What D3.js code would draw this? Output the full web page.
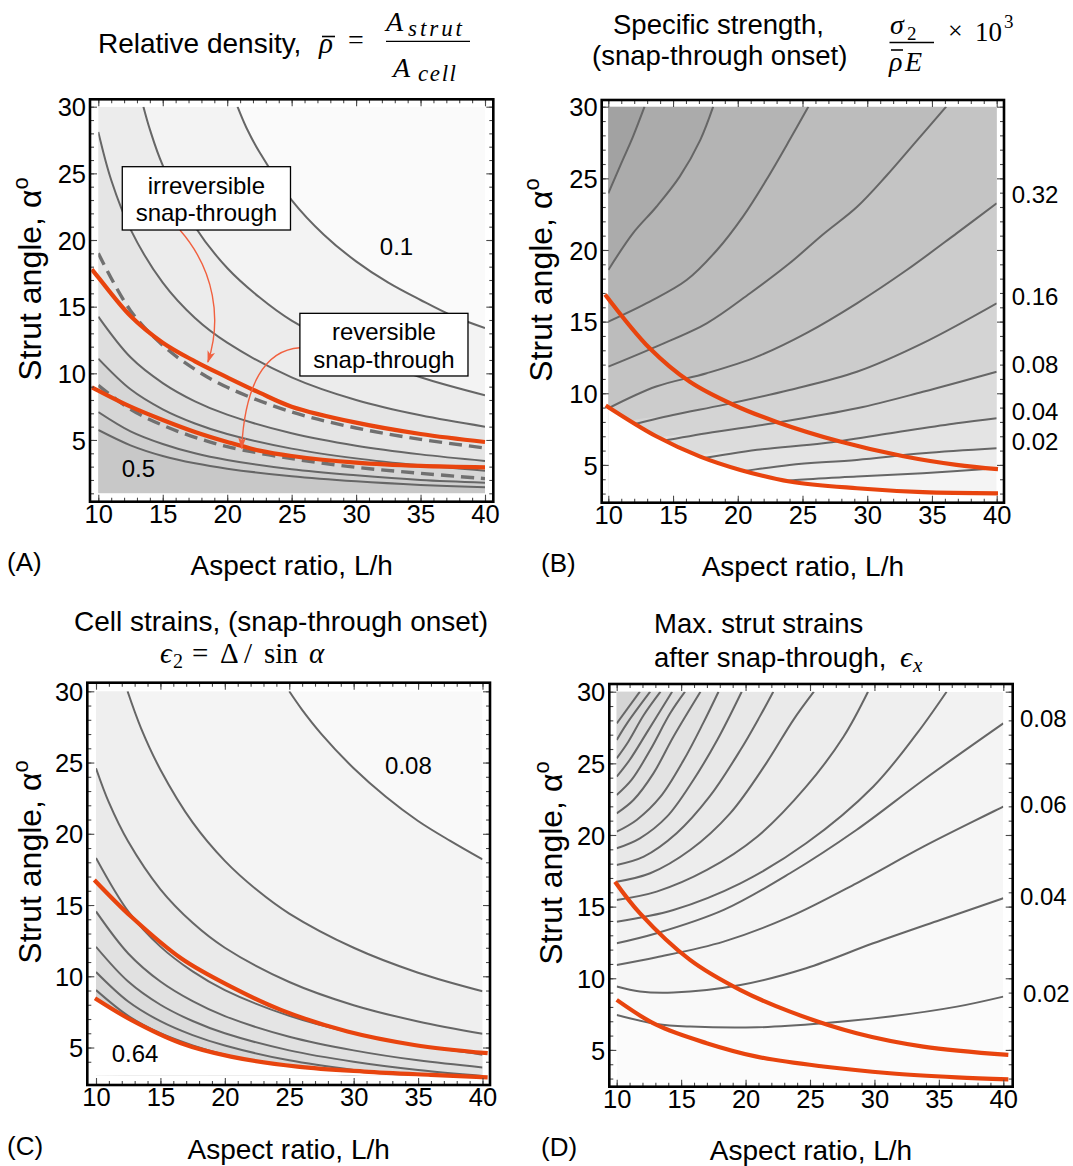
<!DOCTYPE html>
<html>
<head>
<meta charset="utf-8">
<script src="https://cdn.jsdelivr.net/npm/d3@7"></script>
<style>
  body { margin: 0; background: #fff; }
  svg { display: block; }
</style>
</head>
<body>
<div id="chart"></div>
<script>
// ---- values --------------------------------------------------------------
const xTicks = [10, 15, 20, 25, 30, 35, 40];
const yTicks = [5, 10, 15, 20, 25, 30];

// (A) relative density, contour lines ordered light -> dark, [L/h, alpha]
const densityLines = [
  [[20.8, 30], [21.5, 28.4], [22.5, 26.6], [25, 23.0], [27.5, 20.4], [30, 18.4], [32.5, 16.8], [35, 15.5], [37.5, 14.3], [40, 13.4]],
  [[13.5, 30], [14, 28.3], [15, 25.6], [17.5, 21.0], [20, 17.9], [22.5, 15.7], [25, 13.95], [30, 11.5], [35, 9.7], [40, 8.35]],
  [[10, 28.1], [11, 24.5], [12.5, 20.8], [15, 16.8], [17.5, 14.15], [20, 12.3], [25, 9.7], [30, 8.0], [35, 6.85], [40, 6.0]],
  [[10, 14.25], [12.5, 11.2], [15, 9.27], [17.5, 7.9], [20, 6.9], [25, 5.5], [30, 4.57], [35, 3.92], [40, 3.43]],
  [[10, 11.1], [12.5, 8.8], [15, 7.3], [17.5, 6.24], [20, 5.45], [25, 4.35], [30, 3.62], [35, 3.1], [40, 2.7]],
  [[10, 7.1], [12.5, 5.65], [15, 4.7], [17.5, 4.0], [20, 3.5], [25, 2.8], [30, 2.35], [35, 2.0], [40, 1.8]],
  [[10, 5.75], [12.5, 4.6], [15, 3.8], [17.5, 3.25], [20, 2.85], [25, 2.28], [30, 1.9], [35, 1.63], [40, 1.45]]
];
const densityDashed = [
  [[10, 19.0], [12.5, 14.7], [15, 12.1], [17.5, 10.3], [20, 8.95], [25, 7.1], [30, 5.9], [35, 5.05], [40, 4.4]],
  [[10, 9.1], [12.5, 7.3], [15, 6.1], [17.5, 5.2], [20, 4.5], [25, 3.6], [30, 2.95], [35, 2.5], [40, 2.1]]
];
const densityUpper = [[9.5, 17.8], [10, 17.2], [12.5, 14.3], [15, 12.3], [17.5, 10.9], [20, 9.7], [22.5, 8.55], [25, 7.5], [30, 6.3], [35, 5.45], [40, 4.85]];
const densityLower = [[9.5, 8.95], [10, 8.7], [12.5, 7.5], [15, 6.5], [17.5, 5.6], [20, 4.85], [22.5, 4.2], [25, 3.8], [30, 3.3], [35, 3.05], [40, 2.95]];
const densityLabels = ["0.1", "0.5"];

// (B) specific strength, light -> dark
const strengthLines = [
  [[22, 3.7], [24.5, 3.95], [29.2, 4.19], [34.3, 4.42], [40, 4.77]],
  [[18.5, 4.3], [20.7, 4.6], [24.0, 5.0], [29.2, 5.35], [34.3, 5.81], [40, 6.16]],
  [[16.6, 5.35], [21.5, 6.05], [26.6, 6.51], [31.8, 7.21], [36.9, 7.91], [40, 8.26]],
  [[13.2, 6.51], [17.6, 7.21], [22.75, 7.91], [29.2, 8.95], [34.3, 10.1], [40, 11.5]],
  [[11.2, 7.67], [15.0, 8.49], [18.9, 9.19], [24.0, 10.23], [29.2, 11.5], [34.3, 13.5], [40, 16.28]],
  [[10, 8.95], [13.7, 10.47], [17.6, 11.4], [21.5, 12.56], [25.3, 14.2], [29.2, 16.28], [33.05, 18.6], [36.9, 21.16], [40, 23.26]],
  [[10, 11.86], [13.7, 13.26], [17.6, 14.88], [20.95, 16.98], [24.0, 19.07], [26.6, 21.1], [29.2, 23.0], [31.5, 25.2], [33.8, 27.6], [36.1, 30]],
  [[10, 15.0], [13.2, 16.4], [16.05, 17.9], [18.4, 20.0], [20.4, 22.33], [22.2, 24.88], [24.0, 27.67], [25.45, 30]],
  [[10, 18.6], [11.9, 21.16], [13.7, 23.0], [15.5, 25.1], [17.1, 27.67], [18.1, 30]],
  [[10, 23.95], [11.0, 26.05], [11.9, 27.9], [12.8, 30]]
];
const strengthUpper = [[9.75, 16.9], [13.2, 13.14], [16.3, 10.8], [19.65, 9.2], [23, 8.0], [27.9, 6.63], [32.8, 5.6], [36.9, 5.0], [40.1, 4.7]];
const strengthLower = [[9.8, 9.15], [13.7, 7.0], [17.1, 5.58], [20.2, 4.65], [24, 3.84], [29.2, 3.37], [34.3, 3.1], [40.1, 3.02]];
const strengthLabels = ["0.32", "0.16", "0.08", "0.04", "0.02"];
const strengthLabelAngles = [23.26, 16.16, 11.42, 8.14, 6.05];

// (C) cell strains, light -> dark
const cellStrainLines = [
  [[25.0, 30], [26, 28.7], [27.5, 27.0], [30, 24.6], [32.5, 22.6], [35, 20.9], [37.5, 19.5], [40, 18.2]],
  [[12.45, 30], [13.5, 27.4], [15, 24.5], [17.5, 20.8], [20, 18.1], [22.5, 16.05], [25, 14.4], [30, 12.0], [35, 10.25], [40, 8.95]],
  [[10, 24.6], [11, 22.2], [12.5, 19.45], [15, 16.1], [17.5, 13.75], [20, 12.0], [25, 9.6], [30, 7.97], [35, 6.83], [40, 5.97]],
  [[10, 18.3], [12.5, 14.55], [15, 12.08], [17.5, 10.34], [20, 9.03], [25, 7.22], [30, 6.0], [35, 5.15], [40, 4.5]],
  [[10, 14.55], [12.5, 11.6], [15, 9.63], [17.5, 8.25], [20, 7.2], [25, 5.76], [30, 4.8], [35, 4.1], [40, 3.6]],
  [[10, 12.07], [12.5, 9.63], [15, 8.0], [17.5, 6.86], [20, 6.0], [25, 4.8], [30, 4.0], [35, 3.42], [40, 3.0]],
  [[10, 10.3], [12.5, 8.23], [15, 6.85], [17.5, 5.87], [20, 5.14], [25, 4.1], [30, 3.42], [35, 2.93], [40, 2.57]],
  [[10, 9.03], [12.5, 7.22], [15, 6.0], [17.5, 5.15], [20, 4.5], [25, 3.6], [30, 3.0], [35, 2.57], [40, 2.25]]
];
const cellStrainUpper = [[9.87, 16.76], [12.72, 14.19], [16.6, 11.26], [20.47, 9.27], [24.35, 7.64], [29.52, 6.12], [34.7, 5.18], [40.4, 4.6]];
const cellStrainLower = [[9.92, 8.46], [12.72, 6.94], [16.6, 5.3], [20.47, 4.36], [25.64, 3.66], [30.82, 3.31], [35.99, 3.08], [40.4, 2.91]];
const cellStrainLabels = ["0.08", "0.64"];

// (D) max strut strains, light -> dark (0.02 ... 0.32)
const strutStrainLines = [
  [[10, 7.44], [13.1, 6.81], [15.7, 6.63], [20.9, 6.58], [26.0, 6.86], [31.2, 7.33], [36.4, 8.02], [40, 8.72]],
  [[10, 9.42], [11.8, 9.07], [14.4, 9.0], [19.6, 9.53], [24.7, 10.7], [29.9, 12.44], [35.1, 14.07], [40, 15.58]],
  [[10, 10.93], [13.1, 11.47], [18.3, 12.56], [23.45, 14.3], [28.6, 16.63], [33.8, 19.19], [40, 21.98]],
  [[10, 12.44], [13.1, 13.14], [18.3, 14.77], [23.45, 17.33], [28.6, 20.35], [33.8, 23.84], [40, 27.79]],
  [[10, 13.95], [14.4, 14.77], [19.6, 16.63], [24.7, 19.42], [29.9, 23.37], [33.3, 27.09], [35.6, 30]],
  [[10, 15.47], [13.1, 16.05], [17.0, 17.56], [20.9, 19.88], [24.7, 23.37], [27.6, 26.86], [29.5, 30]],
  [[10, 16.74], [12.6, 17.33], [15.7, 18.95], [18.8, 21.51], [21.6, 25.0], [23.7, 28.02], [25.3, 30]],
  [[10, 17.91], [12.1, 18.49], [14.65, 20.12], [17.2, 22.67], [19.6, 25.93], [21.1, 28.26], [22.15, 30]],
  [[10, 19.07], [11.8, 19.77], [13.9, 21.28], [15.95, 23.84], [17.8, 26.63], [19.7, 30]],
  [[10, 20.23], [11.55, 21.05], [13.4, 22.67], [15.2, 25.23], [16.7, 27.79], [17.9, 30]],
  [[10, 21.51], [11.3, 22.44], [12.85, 24.3], [14.4, 26.86], [16.5, 30]],
  [[10, 22.79], [11.15, 23.84], [12.6, 25.93], [14.15, 28.49], [15.3, 30]],
  [[10, 24.07], [11.0, 25.23], [12.3, 27.09], [14.3, 30]],
  [[10, 25.35], [10.9, 26.51], [12.1, 28.37], [13.4, 30]],
  [[10, 26.63], [10.8, 27.79], [12.6, 30]],
  [[10, 27.79], [11.8, 30]]
];
const strutStrainUpper = [[9.87, 16.74], [11.81, 14.53], [15.69, 11.28], [19.57, 9.19], [23.45, 7.67], [28.62, 6.16], [33.79, 5.23], [40.39, 4.65]];
const strutStrainLower = [[10, 8.49], [13.1, 6.74], [16.98, 5.47], [20.86, 4.53], [26.03, 3.84], [31.2, 3.37], [36.38, 3.09], [40.39, 2.95]];
const strutStrainLabels = ["0.08", "0.06", "0.04", "0.02"];
const strutStrainLabelAngles = [27.56, 21.54, 15.12, 8.37];

// ---- styles ------------------------------------------------------------------
const sans = "'Liberation Sans', Arial, sans-serif";
const serif = "'Liberation Serif', 'DejaVu Serif', serif";
const red = "#e8440e";
const arrowColor = "#f1603f";

const panels = [
  { id: "A", frame: [90, 99.3, 493.3, 501.7], xr: [98.3, 485], yd: [1, 30], yr: [493.3, 106.7], dir: 1, mask: false,
    lines: densityLines, upper: densityUpper, lower: densityLower, dashed: densityDashed,
    shades: ["#fafafa", "#f3f3f3", "#ececec", "#e5e5e5", "#dedede", "#d6d6d6", "#cfcfcf", "#c8c8c8"],
    tag: "(A)", tagX: 7, yTitle: [41, 279] },
  { id: "B", frame: [601.7, 100, 1004, 502.7], xr: [608.3, 996.7], yd: [2.9, 30], yr: [495, 106.7], dir: -1, mask: true,
    lines: strengthLines, upper: strengthUpper, lower: strengthLower, dashed: [],
    shades: ["#f4f4f4", "#ececec", "#e4e4e4", "#dcdcdc", "#d4d4d4", "#cccccc", "#c4c4c4", "#bcbcbc", "#b4b4b4", "#ababab", "#a2a2a2"],
    tag: "(B)", tagX: 541, yTitle: [552, 280] },
  { id: "C", frame: [87.3, 682.7, 490, 1085], xr: [96, 482.5], yd: [3.05, 30], yr: [1075.3, 691.3], dir: 1, mask: true,
    lines: cellStrainLines, upper: cellStrainUpper, lower: cellStrainLower, dashed: [],
    shades: ["#f9f9f9", "#f4f4f4", "#efefef", "#eaeaea", "#e5e5e5", "#e1e1e1", "#dcdcdc", "#d8d8d8", "#d3d3d3"],
    tag: "(C)", tagX: 7, yTitle: [41, 862] },
  { id: "D", frame: [609.3, 684, 1012.7, 1086.7], xr: [616.7, 1003.3], yd: [2.9, 30], yr: [1080, 691.7], dir: -1, mask: false,
    lines: strutStrainLines, upper: strutStrainUpper, lower: strutStrainLower, dashed: [],
    shades: d3.quantize(d3.interpolateRgb("#fbfbfb", "#d5d5d5"), 17),
    tag: "(D)", tagX: 541, yTitle: [562, 863] }
];

const svg = d3.select("#chart").append("svg")
    .attr("width", 1073)
    .attr("height", 1166);
const defs = svg.append("defs");

defs.append("marker")
    .attr("id", "arrowHead")
    .attr("viewBox", "0 0 12 8")
    .attr("refX", 11).attr("refY", 4)
    .attr("markerWidth", 12).attr("markerHeight", 8)
    .attr("markerUnits", "userSpaceOnUse")
    .attr("orient", "auto")
  .append("path")
    .attr("d", "M0,0L12,4L0,8L3,4Z")
    .attr("fill", arrowColor);

// position of a boundary point along the plot perimeter (0..4)
function edgePos(pt, dom) {
  const [x0, x1, y0, y1] = dom, e = 1e-6;
  if (Math.abs(pt[0] - x0) < e) return (pt[1] - y0) / (y1 - y0);
  if (Math.abs(pt[1] - y1) < e) return 1 + (pt[0] - x0) / (x1 - x0);
  if (Math.abs(pt[0] - x1) < e) return 2 + (y1 - pt[1]) / (y1 - y0);
  return 3 + (x1 - pt[0]) / (x1 - x0);
}

function closingCorners(pts, dom, dir) {
  const corners = [[dom[0], dom[2]], [dom[0], dom[3]], [dom[1], dom[3]], [dom[1], dom[2]]];
  const pS = edgePos(pts[0], dom), pE = edgePos(pts[pts.length - 1], dom);
  const out = [];
  if (dir > 0) {
    let t = pS; if (t <= pE) t += 4;
    for (let k = Math.floor(pE) + 1; k < t; k++) out.push(corners[k % 4]);
  } else {
    let t = pS; if (t >= pE) t -= 4;
    for (let k = Math.ceil(pE) - 1; k > t; k--) out.push(corners[((k % 4) + 4) % 4]);
  }
  return out;
}

function drawPanel(p) {
  const x = d3.scaleLinear().domain([10, 40]).range(p.xr);
  const y = d3.scaleLinear().domain(p.yd).range(p.yr);
  const [fx0, fy0, fx1, fy1] = p.frame;
  const dom = [10, 40, p.yd[0], p.yd[1]];
  const g = svg.append("g");

  defs.append("clipPath").attr("id", "plot" + p.id).append("rect")
      .attr("x", x(10)).attr("y", y(30))
      .attr("width", x(40) - x(10)).attr("height", y(p.yd[0]) - y(30));
  defs.append("clipPath").attr("id", "inner" + p.id).append("rect")
      .attr("x", fx0 + 1.3).attr("y", fy0 + 1.3)
      .attr("width", fx1 - fx0 - 2.6).attr("height", fy1 - fy0 - 2.6);

  const line = d3.line()
      .x(d => x(d[0]))
      .y(d => y(d[1]))
      .curve(d3.curveCatmullRom.alpha(0.5));

  const plot = g.append("g").attr("clip-path", `url(#plot${p.id})`);

  // shaded bands: paint each contour's darker side over the lighter one
  plot.append("rect")
      .attr("x", x(10)).attr("y", y(30))
      .attr("width", x(40) - x(10)).attr("height", y(p.yd[0]) - y(30))
      .attr("fill", p.shades[0]);
  p.lines.forEach((pts, i) => {
    let full = pts;
    const s = pts[0];
    if (Math.abs(s[0] - 10) > 1e-6 && Math.abs(s[1] - 30) > 1e-6) full = [[s[0], p.yd[0]], ...pts];
    const close = closingCorners(full, dom, p.dir).map(c => `L${x(c[0])},${y(c[1])}`).join("");
    plot.append("path")
        .attr("d", line(full) + close + "Z")
        .attr("fill", p.shades[i + 1]);
  });

  plot.selectAll("path.contour")
    .data(p.lines)
    .join("path")
      .attr("class", "contour")
      .attr("d", line)
      .attr("fill", "none")
      .attr("stroke", "#666")
      .attr("stroke-width", 2);

  plot.selectAll("path.dashed")
    .data(p.dashed)
    .join("path")
      .attr("class", "dashed")
      .attr("d", line)
      .attr("fill", "none")
      .attr("stroke", "#707070")
      .attr("stroke-width", 3.4)
      .attr("stroke-dasharray", "13,7");

  if (p.mask) {
    plot.append("path")
        .attr("d", d3.area()
            .x(d => x(d[0]))
            .y0(y(p.yd[0]) + 20)
            .y1(d => y(d[1]))
            .curve(d3.curveCatmullRom.alpha(0.5))(p.lower))
        .attr("fill", "#fff");
  }

  g.append("g").attr("clip-path", `url(#inner${p.id})`)
    .selectAll("path")
    .data([p.upper, p.lower])
    .join("path")
      .attr("d", line)
      .attr("fill", "none")
      .attr("stroke", red)
      .attr("stroke-width", 4.2);

  // ticks on all four sides, pointing inward
  const minorX = d3.range(10, 41);
  const minorY = d3.range(Math.ceil(p.yd[0]), 31);
  const style = sel => {
    sel.select(".domain").remove();
    sel.attr("color", "#4a4a4a").attr("font-family", sans).attr("font-size", 25.5);
    sel.selectAll("text").attr("fill", "#000");
    sel.selectAll("line").attr("stroke-width", 1.1);
  };
  const axes = [
    [d3.axisBottom(x).tickValues(minorX).tickSize(-4).tickFormat(""), `translate(0,${fy1})`],
    [d3.axisBottom(x).tickValues(xTicks).tickSize(-7).tickPadding(12), `translate(0,${fy1})`],
    [d3.axisTop(x).tickValues(minorX).tickSize(-4).tickFormat(""), `translate(0,${fy0})`],
    [d3.axisTop(x).tickValues(xTicks).tickSize(-7).tickFormat(""), `translate(0,${fy0})`],
    [d3.axisLeft(y).tickValues(minorY).tickSize(-4).tickFormat(""), `translate(${fx0},0)`],
    [d3.axisLeft(y).tickValues(yTicks).tickSize(-7).tickPadding(4), `translate(${fx0},0)`],
    [d3.axisRight(y).tickValues(minorY).tickSize(-4).tickFormat(""), `translate(${fx1},0)`],
    [d3.axisRight(y).tickValues(yTicks).tickSize(-7).tickFormat(""), `translate(${fx1},0)`]
  ];
  axes.forEach(([a, tf]) => g.append("g").attr("transform", tf).call(a).call(style));
  g.selectAll(".tick text").filter(function () { return this.textContent; }).attr("dy", "0.36em");

  g.append("rect")
      .attr("x", fx0).attr("y", fy0)
      .attr("width", fx1 - fx0).attr("height", fy1 - fy0)
      .attr("fill", "none")
      .attr("stroke", "#000")
      .attr("stroke-width", 2.6);

  // axis titles and panel tag
  g.append("text")
      .attr("x", (fx0 + fx1) / 2).attr("y", fy1 + 73.5)
      .attr("text-anchor", "middle")
      .attr("font-family", sans).attr("font-size", 28)
      .text("Aspect ratio, L/h");
  g.append("text")
      .attr("x", p.tagX).attr("y", fy1 + 69.5)
      .attr("font-family", sans).attr("font-size", 26)
      .text(p.tag);
  const yt = g.append("text")
      .attr("transform", `translate(${p.yTitle[0]},${p.yTitle[1]}) rotate(-90)`)
      .attr("text-anchor", "middle")
      .attr("font-family", sans).attr("font-size", 32);
  yt.append("tspan").text("Strut angle, α");
  yt.append("tspan").attr("dy", -13).attr("font-size", 22).text("o");

  return { g, x, y };
}

const [pa, pb, pc, pd] = panels.map(drawPanel);

// contour labels
const lab = (g, px, py, str) => g.append("text")
    .attr("x", px).attr("y", py)
    .attr("font-family", sans).attr("font-size", 24)
    .text(str);
lab(pa.g, pa.x(31.84), pa.y(18.88), densityLabels[0]);
lab(pa.g, pa.x(11.81), pa.y(2.22), densityLabels[1]);
lab(pc.g, pc.x(32.44), pc.y(24.2), cellStrainLabels[0]);
lab(pc.g, pc.x(11.22), pc.y(3.99), cellStrainLabels[1]);
strengthLabels.forEach((s, i) => lab(pb.g, panels[1].frame[2] + 7.7, pb.y(strengthLabelAngles[i]), s));
strutStrainLabels.forEach((s, i) => lab(pd.g, panels[3].frame[2] + (i === 3 ? 10.3 : 7.3), pd.y(strutStrainLabelAngles[i]), s));

// annotations in panel A
const annotationBoxes = [
  { lines: ["irreversible", "snap-through"], x0: 11.86, x1: 24.91, top: 25.5, bottom: 20.75 },
  { lines: ["reversible", "snap-through"], x0: 25.64, x1: 38.68, top: 14.5, bottom: 9.8 }
];
const annotationArrows = [
  { from: [16.33, 20.75], c1: [19.05, 17.74], c2: [19.59, 14.0], to: [18.5, 10.85] },
  { from: [25.64, 11.92], c1: [22.9, 11.75], c2: [21.37, 9.12], to: [21.12, 4.37] }
];
annotationArrows.forEach(a => {
  const path = d3.path();
  path.moveTo(pa.x(a.from[0]), pa.y(a.from[1]));
  path.bezierCurveTo(pa.x(a.c1[0]), pa.y(a.c1[1]), pa.x(a.c2[0]), pa.y(a.c2[1]), pa.x(a.to[0]), pa.y(a.to[1]));
  pa.g.append("path")
      .attr("d", path.toString())
      .attr("fill", "none")
      .attr("stroke", arrowColor)
      .attr("stroke-width", 1.4)
      .attr("marker-end", "url(#arrowHead)");
});
annotationBoxes.forEach(b => {
  const bx = pa.x(b.x0), by = pa.y(b.top);
  pa.g.append("rect")
      .attr("x", bx).attr("y", by)
      .attr("width", pa.x(b.x1) - bx).attr("height", pa.y(b.bottom) - by)
      .attr("fill", "#fff").attr("stroke", "#000").attr("stroke-width", 1.3);
  b.lines.forEach((t, i) => pa.g.append("text")
      .attr("x", (bx + pa.x(b.x1)) / 2).attr("y", by + 27 + i * 27.5)
      .attr("text-anchor", "middle")
      .attr("font-family", sans).attr("font-size", 24)
      .text(t));
});

// ---- titles --------------------------------------------------------------
function txt(x, y, size, str, family = sans, style = "normal") {
  return svg.append("text")
      .attr("x", x).attr("y", y)
      .attr("font-size", size)
      .attr("font-family", family)
      .attr("font-style", style)
      .text(str);
}
function bar(x1, x2, y, w = 1.3) {
  svg.append("line")
      .attr("x1", x1).attr("x2", x2).attr("y1", y).attr("y2", y)
      .attr("stroke", "#000").attr("stroke-width", w);
}

// (A)
txt(98, 53, 28, "Relative density,");
txt(319, 53, 29, "ρ", serif, "italic");
bar(322, 335, 36.5, 1.6);
txt(348, 48.5, 28, "=", serif);
txt(386, 31, 28, "A", serif, "italic");
txt(408, 35.5, 23, "strut", serif, "italic").attr("textLength", 54);
bar(386, 470, 41.3);
txt(393, 76.5, 28, "A", serif, "italic");
txt(418, 81, 23, "cell", serif, "italic").attr("textLength", 38);

// (B)
txt(613, 34, 27.5, "Specific strength,");
txt(592, 65, 27.5, "(snap-through onset)");
txt(890, 34, 28, "σ", serif, "italic");
txt(907, 39.5, 19, "2", serif);
bar(889.5, 934, 42.5);
txt(889, 71, 28, "ρ", serif, "italic");
bar(891, 903, 50, 1.6);
txt(905, 71.4, 28, "E", serif, "italic");
txt(948, 39, 26, "×", serif);
txt(975, 40.8, 27, "10", serif);
txt(1004, 27.6, 19, "3", serif);

// (C)
txt(74, 631, 28, "Cell strains, (snap-through onset)");
txt(160, 663, 29, "ϵ", serif, "italic");
txt(173, 668, 20, "2", serif);
txt(192, 663, 29, "=", serif);
txt(220, 663, 29, "Δ", serif);
txt(244, 663, 29, "/", serif);
txt(264, 663, 29, "sin", serif);
txt(309, 663, 29, "α", serif, "italic");

// (D)
txt(654, 633, 27.5, "Max. strut strains");
txt(654, 667, 27.5, "after snap-through,");
txt(900, 667, 30, "ϵ", serif, "italic");
txt(913, 672, 21, "x", serif, "italic");
</script>
</body>
</html>
